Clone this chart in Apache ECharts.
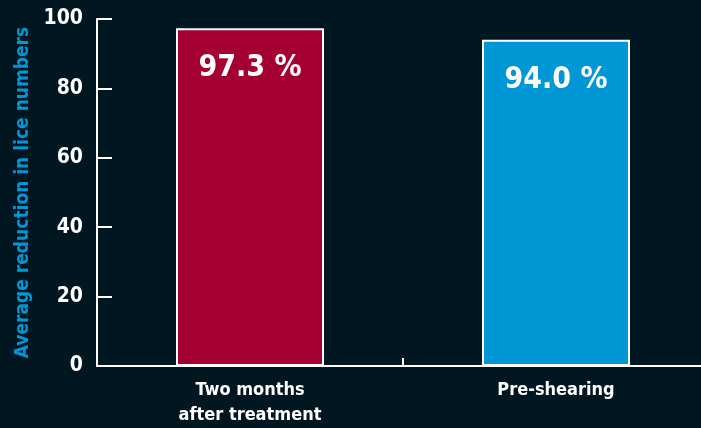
<!DOCTYPE html>
<html><head><meta charset="utf-8">
<script src="https://cdn.jsdelivr.net/npm/echarts@6/dist/echarts.min.js"></script>
<style>html,body{margin:0;padding:0;background:#001620;overflow:hidden;width:701px;height:428px;}#c{width:709px;height:428px;}</style>
</head><body><div id="c"></div>
<script>
const categories = ['Two months\nafter treatment', 'Pre-shearing'];
const values = [97.3, 94.0];
const barColors = ['#a50034', '#0097d7'];
const yTicks = [0, 20, 40, 60, 80, 100];
const yAxisTitle = 'Average reduction in lice numbers';
const FONT = '"Liberation Sans Narrow","DejaVu Sans Condensed","Roboto Condensed",sans-serif';

const chart = echarts.init(document.getElementById('c'));
chart.setOption({
  backgroundColor: '#001620',
  animation: false,
  grid: { left: 97, right: 0, top: 19, bottom: 61, containLabel: false },
  xAxis: {
    type: 'category', data: categories,
    axisLine: { lineStyle: { color: '#ffffff', width: 2 } },
    axisTick: { show: true, inside: true, length: 8, lineStyle: { color: '#ffffff', width: 2 } },
    axisLabel: { color: '#ffffff', fontFamily: FONT, fontWeight: 'bold', fontSize: 18, lineHeight: 25, margin: 12 }
  },
  yAxis: {
    type: 'value', min: 0, max: 100, interval: 20,
    name: yAxisTitle, nameLocation: 'middle', nameGap: 60, nameRotate: 90,
    nameTextStyle: { color: '#0097d7', fontFamily: FONT, fontWeight: 'bold', fontSize: 19 },
    axisLine: { show: true, lineStyle: { color: '#ffffff', width: 2 } },
    axisTick: { show: true, inside: true, length: 15, lineStyle: { color: '#ffffff', width: 2 } },
    axisLabel: { color: '#ffffff', fontFamily: FONT, fontWeight: 'bold', fontSize: 21, margin: 14,
      formatter: v => yTicks.includes(v) ? String(v) : '' },
    splitLine: { show: false }
  },
  series: [{
    type: 'bar', barWidth: 148,
    data: values.map((v, i) => ({ value: v, itemStyle: { color: barColors[i], borderColor: '#ffffff', borderWidth: 2 } })),
    label: { show: true, position: 'insideTop', distance: 25, color: '#ffffff', fontFamily: FONT, fontWeight: 'bold', fontSize: 30,
      formatter: p => p.value.toFixed(1) + ' %' }
  }]
});
</script></body></html>
